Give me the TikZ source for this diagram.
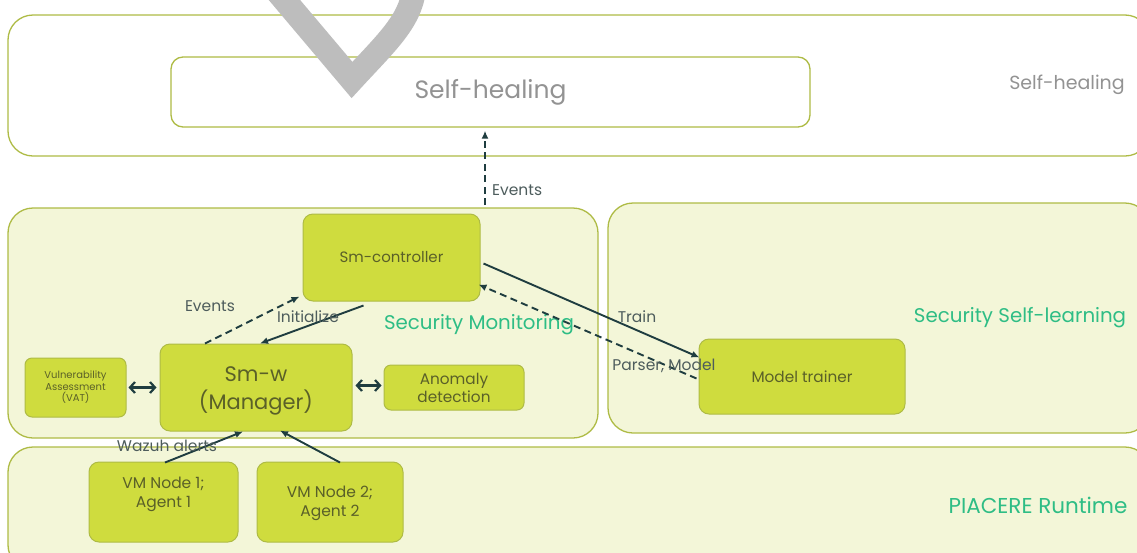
\documentclass[tikz,border=0pt]{standalone}
\usepackage{fontspec}
\setmainfont{Poppins}
\usetikzlibrary{arrows.meta,calc}
\definecolor{olive}{HTML}{AEBB45}
\definecolor{paleFill}{HTML}{F3F6D8}
\definecolor{limeFill}{HTML}{CFDC3E}
\definecolor{teal}{HTML}{1F3D40}
\definecolor{minty}{HTML}{2EBD85}
\definecolor{labelGrey}{HTML}{4D5C5C}
\definecolor{nodeText}{HTML}{5A6028}
\definecolor{markGrey}{HTML}{BDBDBD}
\tikzset{
  layer/.style={draw=olive, line width=1.3pt, rounded corners=25pt, inner sep=0pt},
  comp/.style={draw=olive, fill=limeFill, line width=1pt, rounded corners=10pt,
    text=nodeText, align=center, inner sep=0pt},
  flow/.style={draw=teal, line width=1.9pt, -{Latex[length=8pt,width=7pt]}},
  dflow/.style={flow, dash pattern=on 7pt off 4.5pt},
  both/.style={draw=teal, line width=2.2pt, {Straight Barb[length=5pt,width=11pt]}-{Straight Barb[length=5pt,width=11pt]}},
  tag/.style={text=labelGrey, font=\fontsize{15.5}{18}\selectfont, inner sep=0pt},
  layername/.style={text=minty, font=\fontsize{19.8}{23}\selectfont, inner sep=0pt}
}
\begin{document}
\begin{tikzpicture}[x=1pt,y=-1pt]
\useasboundingbox (0,0) rectangle (1137,552);
\clip (0,0) rectangle (1137,552);

% layers
\node[layer, fill=white, minimum width=1142pt, minimum height=141pt] (shOuter) at (579,85.5) {};
\node[layer, rounded corners=12pt, fill=white, minimum width=639pt, minimum height=70pt,
  text=gray!85, font=\fontsize{25}{30}\selectfont] (shInner) at (490.5,92) {Self-healing};
\node[text=gray!85, font=\fontsize{19}{23}\selectfont, inner sep=0pt] (shName) at (1067,85) {Self-healing};

\node[layer, fill=paleFill, minimum width=590pt, minimum height=230pt] (smBox) at (303,323) {};
\node[layer, fill=paleFill, minimum width=542pt, minimum height=230pt] (sslBox) at (879,318) {};
\node[layer, fill=paleFill, minimum width=1142pt, minimum height=123pt] (rtBox) at (579,508.5) {};

\node[layername] (smName) at (479,325) {Security Monitoring};
\node[layername] (sslName) at (1020,318) {Security Self-learning};
\node[layername, font=\fontsize{21.5}{25}\selectfont] (rtName) at (1038,505) {PIACERE Runtime};

% components
\node[comp, minimum width=177pt, minimum height=87pt, font=\fontsize{15}{18}\selectfont] (ctrl) at (391.5,257.5) {Sm-controller};
\node[comp, minimum width=192pt, minimum height=87pt] (smw) at (256,387.5) {};
\node[text=nodeText, align=center, inner sep=0pt, font=\fontsize{21}{28}\selectfont] (smwText) at ($(smw)+(0,3.5)$) {Sm-w\\(Manager)};
\node[comp, rounded corners=7pt, minimum width=101pt, minimum height=59pt, font=\fontsize{10}{11.5}\selectfont] (vat) at (75.5,387.5) {Vulnerability\\Assessment\\(VAT)};
\node[comp, rounded corners=7pt, minimum width=140pt, minimum height=45pt, font=\fontsize{15.3}{18}\selectfont] (anom) at (454,387.5) {Anomaly\\detection};
\node[comp, minimum width=206pt, minimum height=75pt, font=\fontsize{15.3}{18}\selectfont] (trainer) at (802,376.5) {Model trainer};
\node[comp, minimum width=149pt, minimum height=80pt] (vm1) at (163.5,502) {};
\node[text=nodeText, align=center, inner sep=0pt, font=\fontsize{15.5}{19}\selectfont] (vm1Text) at ($(vm1)+(0,-8)$) {VM Node 1;\\Agent 1};
\node[comp, minimum width=146pt, minimum height=80pt] (vm2) at (330,502) {};
\node[text=nodeText, align=center, inner sep=0pt, font=\fontsize{15.5}{19}\selectfont] (vm2Text) at ($(vm2)+(0,1)$) {VM Node 2;\\Agent 2};

% connectors
\coordinate (evStart) at (485,205);
\draw[dflow] (evStart) -- ($(evStart |- shInner.south)+(0,3)$);
\draw[flow] ($(ctrl.south)+(-28,4)$) -- ($(smw.north)+(4,0)$);
\draw[dflow] ($(smw.north)+(-51,0)$) -- ($(ctrl.south west)+(-3,-5)$);
\draw[flow] ($(ctrl.east)+(3,6)$) -- ($(trainer.north west)+(1,19)$);
\draw[dflow] ($(trainer.west)+(-2,2)$) -- ($(ctrl.south east)+(-2,-17)$);
\draw[both] ($(vat.east)+(2,0)$) -- ($(smw.west)+(-3,0)$);
\draw[both] ($(smw.east)+(3,-2)$) -- ($(anom.west)+(-2,-2)$);
\draw[flow] ($(vm1.north)+(1.5,1)$) -- ($(smw.south)+(-13,0)$);
\draw[flow] ($(vm2.north)+(10,1)$) -- ($(smw.south)+(24,-1)$);

% connector labels
\node[tag, anchor=west] (evUp) at (492,190) {Events};
\node[tag] (evDown) at (210,306) {Events};
\node[tag] (init) at (308,317) {Initialize};
\node[tag] (train) at (637,317) {Train};
\node[tag] (parser) at (664,366) {Parser, Model};
\node[tag] (wazuh) at (167,446) {Wazuh alerts};

% grey check mark over the top band
\draw[markGrey, line width=24pt, line join=miter]
  (276,-10) -- (352,80) .. controls (385,44) and (410,22) .. (414,-10);
\end{tikzpicture}
\end{document}
